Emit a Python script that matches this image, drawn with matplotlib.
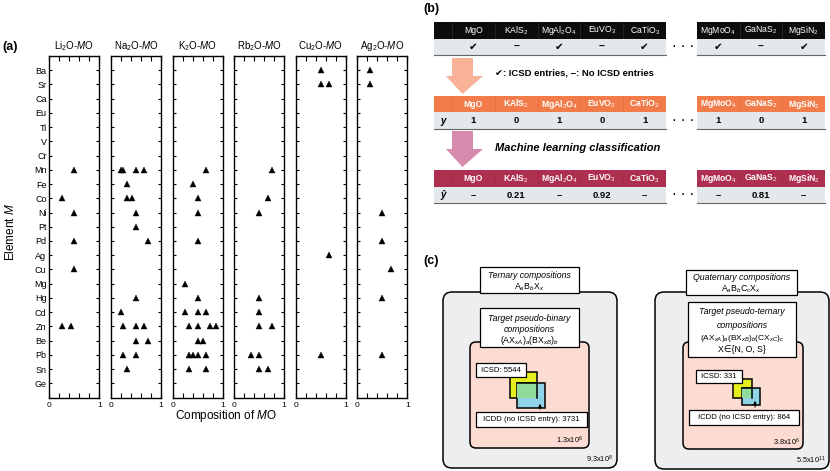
import matplotlib
matplotlib.use("Agg")
import matplotlib.pyplot as plt
from matplotlib.patches import Rectangle, FancyBboxPatch, Polygon

plt.rcParams['font.family'] = ['Liberation Sans', 'DejaVu Sans']
plt.rcParams['mathtext.fontset'] = 'custom'
plt.rcParams['mathtext.rm'] = 'Liberation Sans'
plt.rcParams['mathtext.it'] = 'Liberation Sans:italic'
plt.rcParams['mathtext.bf'] = 'Liberation Sans:bold'

# ---- (a) composition map data ----
elements = ["Ba", "Sr", "Ca", "Eu", "Ti", "V", "Cr", "Mn", "Fe", "Co", "Ni", "Pt",
            "Pd", "Ag", "Cu", "Mg", "Hg", "Cd", "Zn", "Be", "Pb", "Sn", "Ge"]
systems = [r"Li$_2$O-$M$O", r"Na$_2$O-$M$O", r"K$_2$O-$M$O",
           r"Rb$_2$O-$M$O", r"Cu$_2$O-$M$O", r"Ag$_2$O-$M$O"]

li2o = [("Mn", 0.5), ("Co", 0.25), ("Ni", 0.5), ("Pd", 0.5), ("Cu", 0.5),
        ("Zn", 0.25), ("Zn", 0.43)]
na2o = [("Mn", 0.2), ("Mn", 0.25), ("Mn", 0.5), ("Mn", 0.67), ("Fe", 0.33),
        ("Co", 0.33), ("Co", 0.43), ("Ni", 0.5), ("Pt", 0.5), ("Pd", 0.75),
        ("Hg", 0.5), ("Cd", 0.2), ("Zn", 0.25), ("Zn", 0.5), ("Zn", 0.67),
        ("Be", 0.5), ("Be", 0.75), ("Pb", 0.25), ("Pb", 0.5), ("Sn", 0.33)]
k2o = [("Mn", 0.67), ("Fe", 0.4), ("Co", 0.5), ("Ni", 0.5), ("Pd", 0.5),
       ("Mg", 0.25), ("Hg", 0.5), ("Cd", 0.25), ("Cd", 0.5), ("Cd", 0.67),
       ("Zn", 0.33), ("Zn", 0.5), ("Zn", 0.75), ("Zn", 0.87), ("Be", 0.5),
       ("Be", 0.6), ("Pb", 0.33), ("Pb", 0.41), ("Pb", 0.5), ("Pb", 0.67),
       ("Sn", 0.33), ("Sn", 0.67)]
rb2o = [("Mn", 0.75), ("Co", 0.67), ("Ni", 0.5), ("Hg", 0.5), ("Cd", 0.5),
        ("Zn", 0.5), ("Zn", 0.75), ("Pb", 0.33), ("Pb", 0.5), ("Sn", 0.5),
        ("Sn", 0.67)]
cu2o = [("Ba", 0.5), ("Sr", 0.5), ("Sr", 0.67), ("Ag", 0.67), ("Pb", 0.5)]
ag2o = [("Ba", 0.25), ("Sr", 0.25), ("Ni", 0.5), ("Pd", 0.5), ("Cu", 0.67),
        ("Hg", 0.5), ("Pb", 0.5)]
points = [li2o, na2o, k2o, rb2o, cu2o, ag2o]

# ---- (b) table data ----
names_left = ["MgO", r"KAlS$_2$", r"MgAl$_2$O$_4$", r"EuVO$_3$", r"CaTiO$_3$"]
names_right = [r"MgMoO$_4$", r"GaNaS$_2$", r"MgSiN$_2$"]
icsd_left = ["✔", "–", "✔", "–", "✔"]
icsd_right = ["✔", "–", "✔"]
y_left = ["1", "0", "1", "0", "1"]
y_right = ["1", "0", "1"]
yhat_left = ["–", "0.21", "–", "0.92", "–"]
yhat_right = ["–", "0.81", "–"]

# ---- (c) counts ----
icsd_counts = ["5544", "331"]
icdd_counts = ["3731", "864"]
target_sizes = [r"1.3x10$^6$", r"3.8x10$^6$"]
total_sizes = [r"9.3x10$^8$", r"5.5x10$^{11}$"]

W, H = 830, 471
fig = plt.figure(figsize=(W / 100, H / 100), dpi=100)

ov = fig.add_axes([0, 0, 1, 1])
ov.set_xlim(0, W)
ov.set_ylim(H, 0)
ov.axis("off")

# ---------------- panel (a) ----------------
top, bot = 56.0, 397.5
for i, (title, pts) in enumerate(zip(systems, points)):
    x0 = 49.3 + i * 61.6
    ax = fig.add_axes([x0 / W, 1 - bot / H, 50 / W, (bot - top) / H])
    xs = [c for e, c in pts]
    ys = [elements.index(e) for e, c in pts]
    ax.plot(xs, ys, "^", color="black", ms=3.8, mec="black", mew=0.3)
    ax.set_xlim(0, 1)
    ax.set_ylim(len(elements), -1)
    ax.set_yticks(range(len(elements)))
    if i == 0:
        ax.set_yticklabels(elements, fontsize=6.5)
    else:
        ax.set_yticklabels([])
    ax.set_xticks([0, 0.2, 0.4, 0.6, 0.8, 1])
    ax.set_xticklabels(["0", "", "", "", "", "1"], fontsize=6)
    ax.tick_params(axis="both", direction="in", length=2.5, width=0.8,
                   top=True, right=True, pad=2)
    ax.tick_params(axis="x", length=3.5, pad=3)
    for s in ax.spines.values():
        s.set_linewidth(1.0)
    ax.set_title(title, fontsize=7, pad=5)

ov.text(2, 47, "(a)", fontsize=9, fontweight="bold", va="center", ha="left")
ov.text(11, 232, r"Element $M$", fontsize=8.5, rotation=90, va="center", ha="center")
ov.text(226, 416, r"Composition of $M$O", fontsize=8.5, va="center", ha="center")

# ---------------- panel (b) ----------------
ov.text(423, 9, "(b)", fontsize=9, fontweight="bold", va="center", ha="left")

row_bg = "#e3e8ea"
lc = [452 + 42.8 * (k + 0.5) for k in range(len(names_left))]
rc = [697 + 42.67 * (k + 0.5) for k in range(len(names_right))]


def table_block(y0, hcolor, hweight, sep, label, left_vals, right_vals, vfont):
    hh, bh = 16.5, 16.5
    for xa, xb in [(434, 666), (697, 825)]:
        ov.add_patch(Rectangle((xa, y0), xb - xa, hh, fc=hcolor, ec="none"))
        ov.add_patch(Rectangle((xa, y0 + hh), xb - xa, bh, fc=row_bg, ec="none"))
        ov.plot([xa, xb], [y0 + hh + bh] * 2, color="#666666", lw=0.8)
    for xs in [452, 494.8, 537.6, 580.4, 623.2, 739.7, 782.3]:
        ov.plot([xs, xs], [y0 + 1, y0 + hh - 1], color=sep, lw=0.5)
    for x, t in zip(lc + rc, names_left + names_right):
        ov.text(x, y0 + hh / 2 + 0.5, t, color="white", fontsize=6.2,
                fontweight=hweight, ha="center", va="center")
    yb = y0 + hh + bh / 2 + 0.5
    if label:
        ov.text(443, yb, label, fontsize=7, fontweight="bold", style="italic",
                ha="center", va="center")
    for x, t in zip(lc + rc, left_vals + right_vals):
        ov.text(x, yb, t, fontsize=vfont, fontweight="bold", ha="center",
                va="center", family=["DejaVu Sans"] if t == "✔" else None)
    ov.text(683, yb, "·  ·  ·", fontsize=7, fontweight="bold", ha="center", va="center")


table_block(22, "#0c0c0c", "normal", "#2e2e2e", None, icsd_left, icsd_right, 7.5)
table_block(95.5, "#f27c49", "bold", "#e0703f", "y", y_left, y_right, 6.8)
table_block(170, "#ae2f4f", "bold", "#9c2a46", "ŷ", yhat_left, yhat_right, 6.8)


def block_arrow(ytop, yhead, ytip, color):
    pts = [(452, ytop), (473, ytop), (473, yhead), (483, yhead), (462.5, ytip),
           (446, yhead), (452, yhead)]
    ov.add_patch(Polygon(pts, closed=True, fc=color, ec="none"))


block_arrow(58, 76, 94, "#f8b298")
block_arrow(131, 149, 167, "#d68aac")
ov.text(495, 73, "✔: ICSD entries, −: No ICSD entries", fontsize=6.8,
        fontweight="bold", ha="left", va="center")
ov.text(495, 148, "Machine learning classification", fontsize=8,
        fontweight="bold", style="italic", ha="left", va="center")

# ---------------- panel (c) ----------------
ov.text(423, 261, "(c)", fontsize=9, fontweight="bold", va="center", ha="left")


def rbox(x0, y0, x1, y1, fc, r=8, lw=1.1):
    ov.add_patch(FancyBboxPatch((x0, y0), x1 - x0, y1 - y0,
                                boxstyle="round,pad=0,rounding_size=%g" % r,
                                fc=fc, ec="black", lw=lw))


def sbox(x0, y0, x1, y1, fc="white", lw=0.9):
    ov.add_patch(Rectangle((x0, y0), x1 - x0, y1 - y0, fc=fc, ec="black", lw=lw))


# left: ternary
rbox(443, 292, 617, 468, "#eceef0", r=9)
rbox(470, 342, 589, 448, "#fcdcd2", r=6)
sbox(480, 267, 579, 293)
ov.text(529.5, 275, "Ternary compositions", fontsize=6.3, style="italic", ha="center", va="center")
ov.text(529.5, 287, r"A$_a$B$_b$X$_x$", fontsize=6.3, ha="center", va="center")
sbox(480, 308, 579, 347)
ov.text(529.5, 318.5, "Target pseudo-binary", fontsize=6.3, style="italic", ha="center", va="center")
ov.text(529.5, 330, "compositions", fontsize=6.3, style="italic", ha="center", va="center")
ov.text(529.5, 340.5, r"(AX$_{xA}$)$_a$(BX$_{xB}$)$_b$", fontsize=6.3, ha="center", va="center")
sbox(510, 372, 537, 398, fc="#e6ef1e", lw=1.1)
sbox(517, 383, 545, 408, fc="#90d3e6", lw=1.1)
ov.add_patch(Rectangle((517, 383), 20, 15, fc="#8fdc9c", ec="none"))
ov.plot([517, 537, 537], [383, 383, 398], color="black", lw=1.1)
sbox(476, 363, 526, 377)
ov.text(501, 370, "ICSD: " + icsd_counts[0], fontsize=5.6, ha="center", va="center")
ov.annotate("", xy=(540, 401), xytext=(540, 412),
            arrowprops=dict(arrowstyle="-|>", lw=0.7, color="black", mutation_scale=5))
sbox(476, 412, 587, 427)
ov.text(531.5, 419.5, "ICDD (no ICSD entry): " + icdd_counts[0], fontsize=5.6,
        ha="center", va="center")
ov.text(583, 440, target_sizes[0], fontsize=5.3, ha="right", va="center")
ov.text(613, 459, total_sizes[0], fontsize=5.3, ha="right", va="center")

# right: quaternary
rbox(655, 292, 829, 469, "#eceef0", r=9)
rbox(683, 342, 803, 449, "#fcdcd2", r=6)
sbox(686, 270, 797, 295)
ov.text(741.5, 277, "Quaternary compositions", fontsize=6.3, style="italic", ha="center", va="center")
ov.text(741.5, 288.5, r"A$_a$B$_b$C$_c$X$_x$", fontsize=6.3, ha="center", va="center")
sbox(688, 302, 796, 357)
ov.text(742, 312, "Target pseudo-ternary", fontsize=6.3, style="italic", ha="center", va="center")
ov.text(742, 325, "compositions", fontsize=6.3, style="italic", ha="center", va="center")
ov.text(742, 338, r"(AX$_{xA}$)$_a$(BX$_{xB}$)$_b$(CX$_{xC}$)$_c$", fontsize=6.0,
        ha="center", va="center")
ov.text(742, 350, "X∈{N, O, S}", fontsize=6.3, ha="center", va="center")
sbox(733, 379, 752, 398, fc="#e6ef1e", lw=1.1)
sbox(742, 388, 760, 405, fc="#90d3e6", lw=1.1)
ov.add_patch(Rectangle((742, 388), 10, 10, fc="#8fdc9c", ec="none"))
ov.plot([742, 752, 752], [388, 388, 398], color="black", lw=1.1)
sbox(696, 370, 742, 383)
ov.text(719, 376.5, "ICSD: " + icsd_counts[1], fontsize=5.6, ha="center", va="center")
ov.annotate("", xy=(755, 398), xytext=(755, 410),
            arrowprops=dict(arrowstyle="-|>", lw=0.7, color="black", mutation_scale=5))
sbox(689, 410, 799, 425)
ov.text(744, 417.5, "ICDD (no ICSD entry): " + icdd_counts[1], fontsize=5.6,
        ha="center", va="center")
ov.text(800, 442, target_sizes[1], fontsize=5.3, ha="right", va="center")
ov.text(826, 460, total_sizes[1], fontsize=5.3, ha="right", va="center")

fig.savefig("out.png", dpi=100)
